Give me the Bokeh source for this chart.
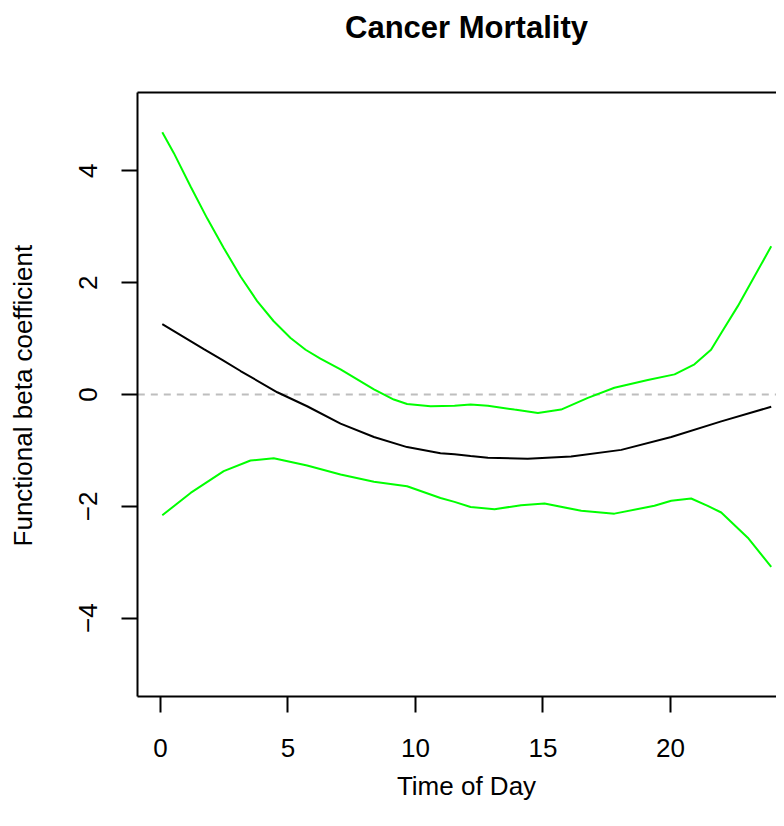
import math
from bokeh.plotting import figure
from bokeh.models import FixedTicker, Range1d, Label, LinearAxis
from bokeh.embed import file_html
from bokeh.resources import INLINE

# Estimated functional beta coefficient (black)
est_x = [0.07, 1.70, 2.42, 3.14, 4.58, 5.75, 7.06, 8.37, 9.67, 10.98, 11.53, 12.16,
         12.84, 14.40, 16.10, 18.07, 20.03, 21.99, 23.95]
est_y = [1.26, 0.81, 0.62, 0.42, 0.04, -0.21, -0.52, -0.76, -0.94, -1.05, -1.07, -1.10,
         -1.13, -1.15, -1.11, -0.99, -0.76, -0.48, -0.22]

# Upper confidence band (green)
upper_x = [0.07, 0.52, 1.18, 1.83, 2.48, 3.14, 3.79, 4.44, 5.10, 5.69, 6.27, 7.06, 8.37,
           9.15, 9.67, 10.59, 11.53, 12.16, 12.84, 13.88, 14.80, 15.71, 16.76, 17.80,
           19.11, 20.16, 20.94, 21.59, 21.99, 22.64, 23.29, 23.95]
upper_y = [4.69, 4.32, 3.72, 3.15, 2.62, 2.11, 1.67, 1.31, 1.01, 0.80, 0.64, 0.45, 0.09,
           -0.09, -0.17, -0.21, -0.20, -0.18, -0.20, -0.27, -0.33, -0.27, -0.06, 0.12,
           0.26, 0.36, 0.54, 0.80, 1.10, 1.58, 2.11, 2.65]

# Lower confidence band (green)
lower_x = [0.07, 1.18, 2.48, 3.53, 4.44, 5.75, 7.06, 8.37, 9.67, 10.98, 11.53, 12.16,
           13.10, 14.14, 15.06, 16.50, 17.80, 19.37, 20.03, 20.81, 21.46, 21.99, 23.03, 23.95]
lower_y = [-2.16, -1.76, -1.37, -1.18, -1.14, -1.27, -1.43, -1.56, -1.64, -1.85, -1.92, -2.01,
           -2.05, -1.98, -1.95, -2.08, -2.13, -1.99, -1.90, -1.86, -1.99, -2.11, -2.56, -3.08]

x_ticks = [0, 5, 10, 15, 20]
y_ticks = [-4, -2, 0, 2, 4]
title_text = "Cancer Mortality"
xlab_text = "Time of Day"
ylab_text = "Functional beta coefficient"

# plot box limits (R style 4% padding; the right side runs past the picture edge)
box_left, box_right = -0.89, 24.157
box_bottom, box_top = -5.4, 5.4

FONT = "Liberation Sans"

# The frame covers the whole figure; axes are pinned to the plot box edges.
p = figure(width=776, height=810,
           x_range=Range1d(-6.2745, 24.157), y_range=Range1d(-7.438, 7.045),
           output_backend="svg", toolbar_location=None,
           min_border_left=0, min_border_right=0, min_border_top=0, min_border_bottom=0)
p.outline_line_color = None
p.grid.visible = False
p.background_fill_color = "white"
p.border_fill_color = "white"

for ax in (p.xaxis[0], p.yaxis[0]):
    ax.axis_line_width = 2
    ax.axis_line_color = "black"
    ax.major_tick_line_width = 2
    ax.major_tick_line_color = "black"
    ax.major_tick_in = 0
    ax.major_tick_out = 16
    ax.minor_tick_in = 0
    ax.minor_tick_out = 0
    ax.major_label_text_font = FONT
    ax.major_label_text_font_size = "26px"
    ax.major_label_text_color = "black"

p.xaxis.ticker = FixedTicker(ticks=x_ticks)
p.xaxis.fixed_location = box_bottom
p.xaxis.bounds = (box_left, box_right)
p.xaxis.major_label_standoff = 26

p.yaxis.ticker = FixedTicker(ticks=y_ticks)
p.yaxis.fixed_location = box_left
p.yaxis.bounds = (box_bottom, box_top)
p.yaxis.major_label_standoff = 25
p.yaxis.major_label_orientation = "vertical"
p.yaxis.major_label_overrides = {t: (str(t).replace("-", "\u2212")) for t in y_ticks}

# top edge of the plot box
top = LinearAxis(ticker=FixedTicker(ticks=[]), fixed_location=box_top,
                 bounds=(box_left, box_right), major_tick_out=0, major_tick_in=0,
                 minor_tick_out=0, minor_tick_in=0, major_label_text_font_size="0px",
                 axis_line_width=2, axis_line_color="black")
p.add_layout(top, "above")

# horizontal reference line at zero across the plot box
p.segment(x0=[box_left], y0=[0], x1=[box_right], y1=[0], line_color="#BEBEBE",
          line_dash="7 6", line_width=2)

p.line(est_x, est_y, line_color="black", line_width=2)
p.line(upper_x, upper_y, line_color="#00FF00", line_width=2)
p.line(lower_x, lower_y, line_color="#00FF00", line_width=2)

# Titles
p.add_layout(Label(x=12.0, y=6.562, text=title_text, text_align="center",
                   text_baseline="middle", text_font=FONT, text_font_size="31px",
                   text_font_style="bold", text_color="black"))
p.add_layout(Label(x=12.0, y=-6.991, text=xlab_text, text_align="center",
                   text_baseline="middle", text_font=FONT, text_font_size="26px",
                   text_color="black"))
p.add_layout(Label(x=-5.41, y=-0.02, text=ylab_text, text_align="center",
                   text_baseline="middle", angle=math.pi / 2, text_font=FONT,
                   text_font_size="26px", text_color="black"))

open("out.html", "w").write(file_html(p, INLINE))
